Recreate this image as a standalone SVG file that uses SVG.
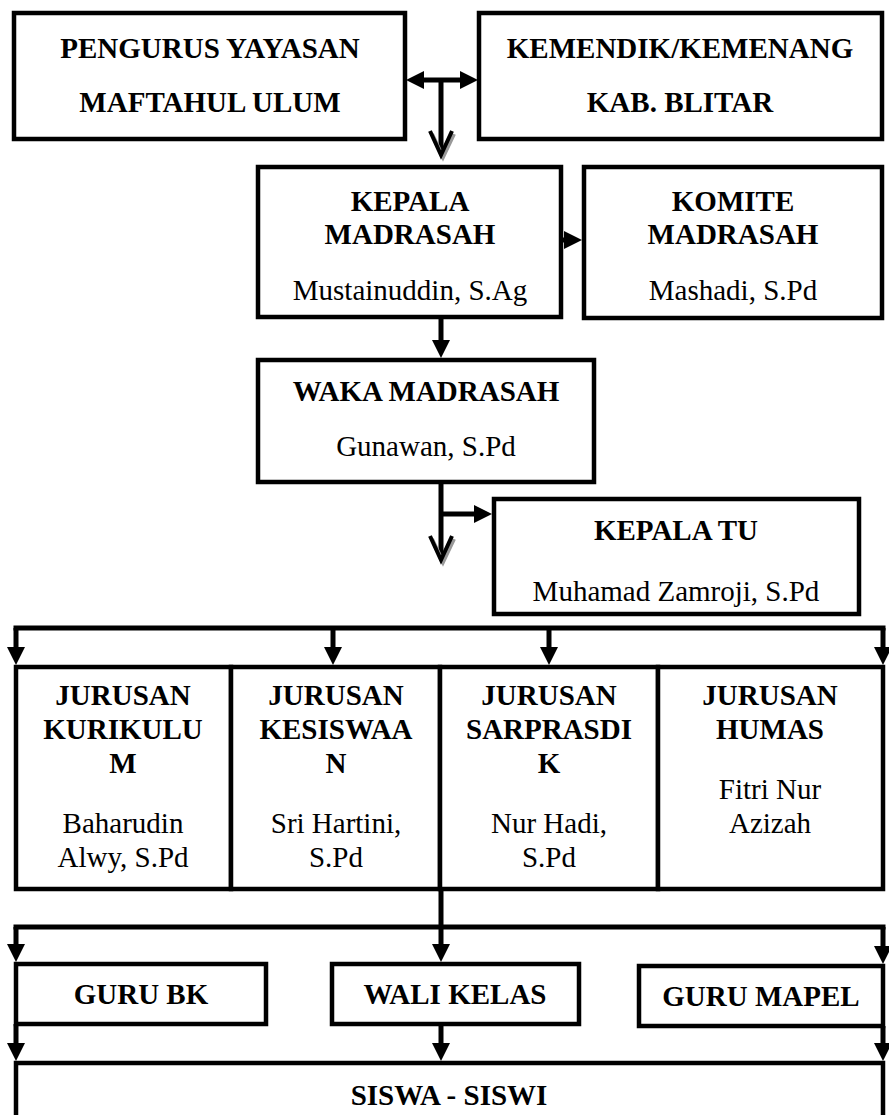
<svg xmlns="http://www.w3.org/2000/svg" width="889" height="1115" viewBox="0 0 889 1115">
<style>
.box{fill:#fff;stroke:#000;stroke-width:4.5}
.t{font-family:"Liberation Serif","Times New Roman",serif;font-size:29px;text-anchor:middle;fill:#000}
.b{font-weight:bold}
.c{stroke:#000;stroke-width:5;fill:none}
.v{stroke:#000;stroke-width:4;fill:none;stroke-linejoin:miter}
.vs{stroke:#999;stroke-width:4;fill:none}
</style>
<defs>
<marker id="ah" viewBox="0 0 18 18" refX="8" refY="9" markerWidth="18" markerHeight="18" markerUnits="userSpaceOnUse" orient="auto-start-reverse">
<path d="M0,0 L18,9 L0,18 z" fill="#000"/>
</marker>
</defs>
<rect width="889" height="1115" fill="#fff"/>

<g id="pengurus">
<rect class="box" x="14" y="13" width="391" height="126"/>
<text class="t b" x="210" y="58">PENGURUS YAYASAN</text>
<text class="t b" x="210" y="112">MAFTAHUL ULUM</text>
</g>
<g id="kemendik">
<rect class="box" x="479" y="13" width="403" height="126"/>
<text class="t b" x="680" y="58">KEMENDIK/KEMENANG</text>
<text class="t b" x="680" y="112">KAB. BLITAR</text>
</g>
<g id="kepala">
<rect class="box" x="258" y="167" width="303" height="150"/>
<text class="t b" x="410" y="211">KEPALA</text>
<text class="t b" x="410" y="244">MADRASAH</text>
<text class="t" x="410" y="300">Mustainuddin, S.Ag</text>
</g>
<g id="komite">
<rect class="box" x="584" y="167" width="298" height="151"/>
<text class="t b" x="733" y="211">KOMITE</text>
<text class="t b" x="733" y="244">MADRASAH</text>
<text class="t" x="733" y="300">Mashadi, S.Pd</text>
</g>
<g id="waka">
<rect class="box" x="258" y="360" width="336" height="122"/>
<text class="t b" x="426" y="401">WAKA MADRASAH</text>
<text class="t" x="426" y="456">Gunawan, S.Pd</text>
</g>
<g id="kepalatu">
<rect class="box" x="494" y="499" width="365" height="115"/>
<text class="t b" x="676" y="540">KEPALA TU</text>
<text class="t" x="676" y="601">Muhamad Zamroji, S.Pd</text>
</g>
<g id="kurikulum">
<rect class="box" x="16" y="667" width="215" height="222"/>
<text class="t b" x="123" y="705">JURUSAN</text>
<text class="t b" x="123" y="739">KURIKULU</text>
<text class="t b" x="123" y="773">M</text>
<text class="t" x="123" y="833">Baharudin</text>
<text class="t" x="123" y="867">Alwy, S.Pd</text>
</g>
<g id="kesiswaan">
<rect class="box" x="231" y="667" width="209" height="222"/>
<text class="t b" x="336" y="705">JURUSAN</text>
<text class="t b" x="336" y="739">KESISWAA</text>
<text class="t b" x="336" y="773">N</text>
<text class="t" x="336" y="833">Sri Hartini,</text>
<text class="t" x="336" y="867">S.Pd</text>
</g>
<g id="sarprasdik">
<rect class="box" x="440" y="667" width="218" height="222"/>
<text class="t b" x="549" y="705">JURUSAN</text>
<text class="t b" x="549" y="739">SARPRASDI</text>
<text class="t b" x="549" y="773">K</text>
<text class="t" x="549" y="833">Nur Hadi,</text>
<text class="t" x="549" y="867">S.Pd</text>
</g>
<g id="humas">
<rect class="box" x="658" y="667" width="225" height="222"/>
<text class="t b" x="770" y="705">JURUSAN</text>
<text class="t b" x="770" y="739">HUMAS</text>
<text class="t" x="770" y="799">Fitri Nur</text>
<text class="t" x="770" y="833">Azizah</text>
</g>
<g id="gurubk">
<rect class="box" x="16" y="964" width="250" height="60"/>
<text class="t b" x="141" y="1004">GURU BK</text>
</g>
<g id="walikelas">
<rect class="box" x="332" y="964" width="247" height="60"/>
<text class="t b" x="455" y="1004">WALI KELAS</text>
</g>
<g id="gurumapel">
<rect class="box" x="639" y="966" width="244" height="60"/>
<text class="t b" x="761" y="1006">GURU MAPEL</text>
</g>
<g id="siswa">
<rect class="box" x="16" y="1063" width="867" height="80"/>
<text class="t b" x="449" y="1105">SISWA - SISWI</text>
</g>

<g id="connectors">
<line class="c" x1="416" y1="80" x2="468" y2="80" marker-start="url(#ah)" marker-end="url(#ah)"/>
<line class="c" x1="441" y1="80" x2="441" y2="153"/>
<polyline class="vs" points="432,134 443,157 454,134"/>
<polyline class="v" points="430,131 441,155 452,131"/>
<line class="c" x1="561" y1="240" x2="572" y2="240" marker-end="url(#ah)"/>
<line class="c" x1="441" y1="317" x2="441" y2="348" marker-end="url(#ah)"/>
<line class="c" x1="441" y1="482" x2="441" y2="558"/>
<polyline class="vs" points="432,539 443,562 454,539"/>
<polyline class="v" points="430,536 441,560 452,536"/>
<line class="c" x1="441" y1="514" x2="482" y2="514" marker-end="url(#ah)"/>
<line class="c" x1="13.5" y1="628" x2="885.5" y2="628"/>
<line class="c" x1="16" y1="628" x2="16" y2="655" marker-end="url(#ah)"/>
<line class="c" x1="333" y1="628" x2="333" y2="655" marker-end="url(#ah)"/>
<line class="c" x1="549" y1="628" x2="549" y2="655" marker-end="url(#ah)"/>
<line class="c" x1="883" y1="628" x2="883" y2="655" marker-end="url(#ah)"/>
<line class="c" x1="441" y1="889" x2="441" y2="952" marker-end="url(#ah)"/>
<line class="c" x1="13.5" y1="927" x2="885.5" y2="927"/>
<line class="c" x1="16" y1="927" x2="16" y2="952" marker-end="url(#ah)"/>
<line class="c" x1="883" y1="927" x2="883" y2="954" marker-end="url(#ah)"/>
<line class="c" x1="16" y1="1024" x2="16" y2="1051" marker-end="url(#ah)"/>
<line class="c" x1="441" y1="1024" x2="441" y2="1051" marker-end="url(#ah)"/>
<line class="c" x1="883" y1="1026" x2="883" y2="1051" marker-end="url(#ah)"/>
</g>
</svg>
